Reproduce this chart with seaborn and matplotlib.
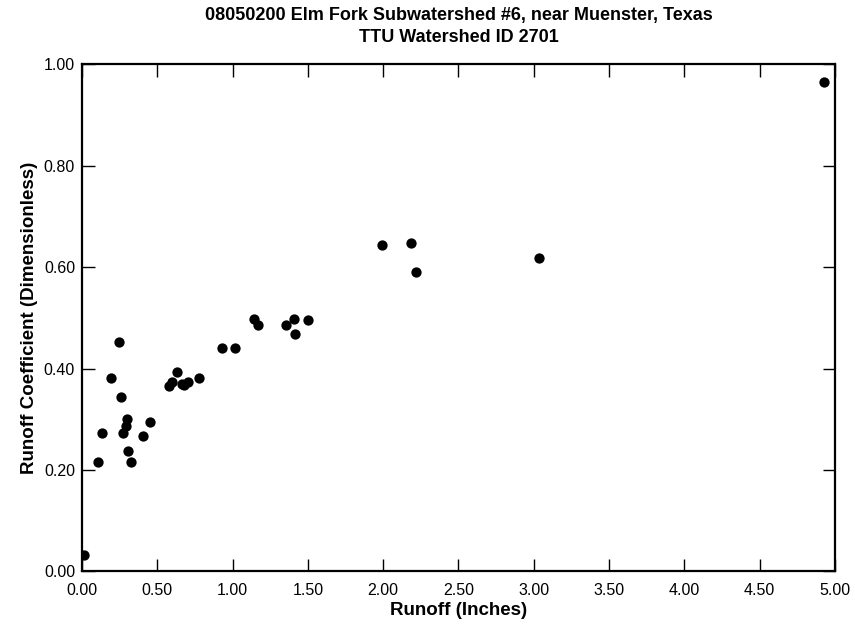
"""Runoff coefficient vs runoff scatter for TTU watershed 2701."""
import matplotlib.pyplot as plt
import pandas as pd
import seaborn as sns

# Values.
runoff_in = [0.013, 0.108, 0.135, 0.195, 0.246, 0.259, 0.274, 0.290, 0.301, 0.307,
             0.323, 0.403, 0.452, 0.580, 0.600, 0.629, 0.662, 0.680, 0.706, 0.779,
             0.927, 1.014, 1.142, 1.171, 1.353, 1.410, 1.414, 1.499, 1.990, 2.187,
             2.218, 3.037, 4.929]
runoff_coef = [0.033, 0.215, 0.273, 0.381, 0.453, 0.344, 0.273, 0.287, 0.300, 0.237,
               0.215, 0.268, 0.294, 0.365, 0.374, 0.393, 0.370, 0.368, 0.373, 0.381,
               0.441, 0.441, 0.498, 0.486, 0.486, 0.498, 0.468, 0.497, 0.643, 0.648,
               0.590, 0.618, 0.965]
x_ticks = [0.0, 0.5, 1.0, 1.5, 2.0, 2.5, 3.0, 3.5, 4.0, 4.5, 5.0]
y_ticks = [0.0, 0.2, 0.4, 0.6, 0.8, 1.0]

df = pd.DataFrame({'Runoff': runoff_in, 'Coef': runoff_coef})

sns.set_style('ticks')
plt.rcParams['font.family'] = ['Liberation Sans', 'DejaVu Sans']
plt.rcParams['text.color'] = 'black'
plt.rcParams['axes.labelcolor'] = 'black'

fig = plt.figure(figsize=(8.55, 6.28), dpi=100)
ax = fig.add_axes([0.0959, 0.09, 0.8807, 0.8073])

sns.scatterplot(data=df, x='Runoff', y='Coef', ax=ax, color='black',
                s=55, edgecolor='black', linewidth=0, zorder=3)

ax.set_xlim(0, 5)
ax.set_ylim(0, 1)
ax.set_xticks(x_ticks)
ax.set_yticks(y_ticks)
ax.set_xticklabels([f'{v:.2f}' for v in x_ticks], fontsize=11.5)
ax.set_yticklabels([f'{v:.2f}' for v in y_ticks], fontsize=11.5)
ax.tick_params(direction='in', length=9, width=1, top=True, right=True,
               labeltop=False, labelright=False, colors='black')
ax.tick_params(axis='x', pad=8.5)
ax.tick_params(axis='y', pad=5)
for side in ax.spines.values():
    side.set_linewidth(1.6)
    side.set_color('black')

ax.set_xlabel('Runoff (Inches)', fontsize=13.5, fontweight='bold', labelpad=3)
ax.set_ylabel('Runoff Coefficient (Dimensionless)', fontsize=13.5, fontweight='bold', labelpad=4)

# titles are centred over the plot area, not the figure
mid = 0.0959 + 0.8807 / 2
fig.text(mid, 0.975, '08050200 Elm Fork Subwatershed #6, near Muenster, Texas',
         ha='center', va='center', fontsize=13, fontweight='bold')
fig.text(mid, 0.940, 'TTU Watershed ID 2701', ha='center', va='center',
         fontsize=13, fontweight='bold')

fig.savefig('out.png', dpi=100)
